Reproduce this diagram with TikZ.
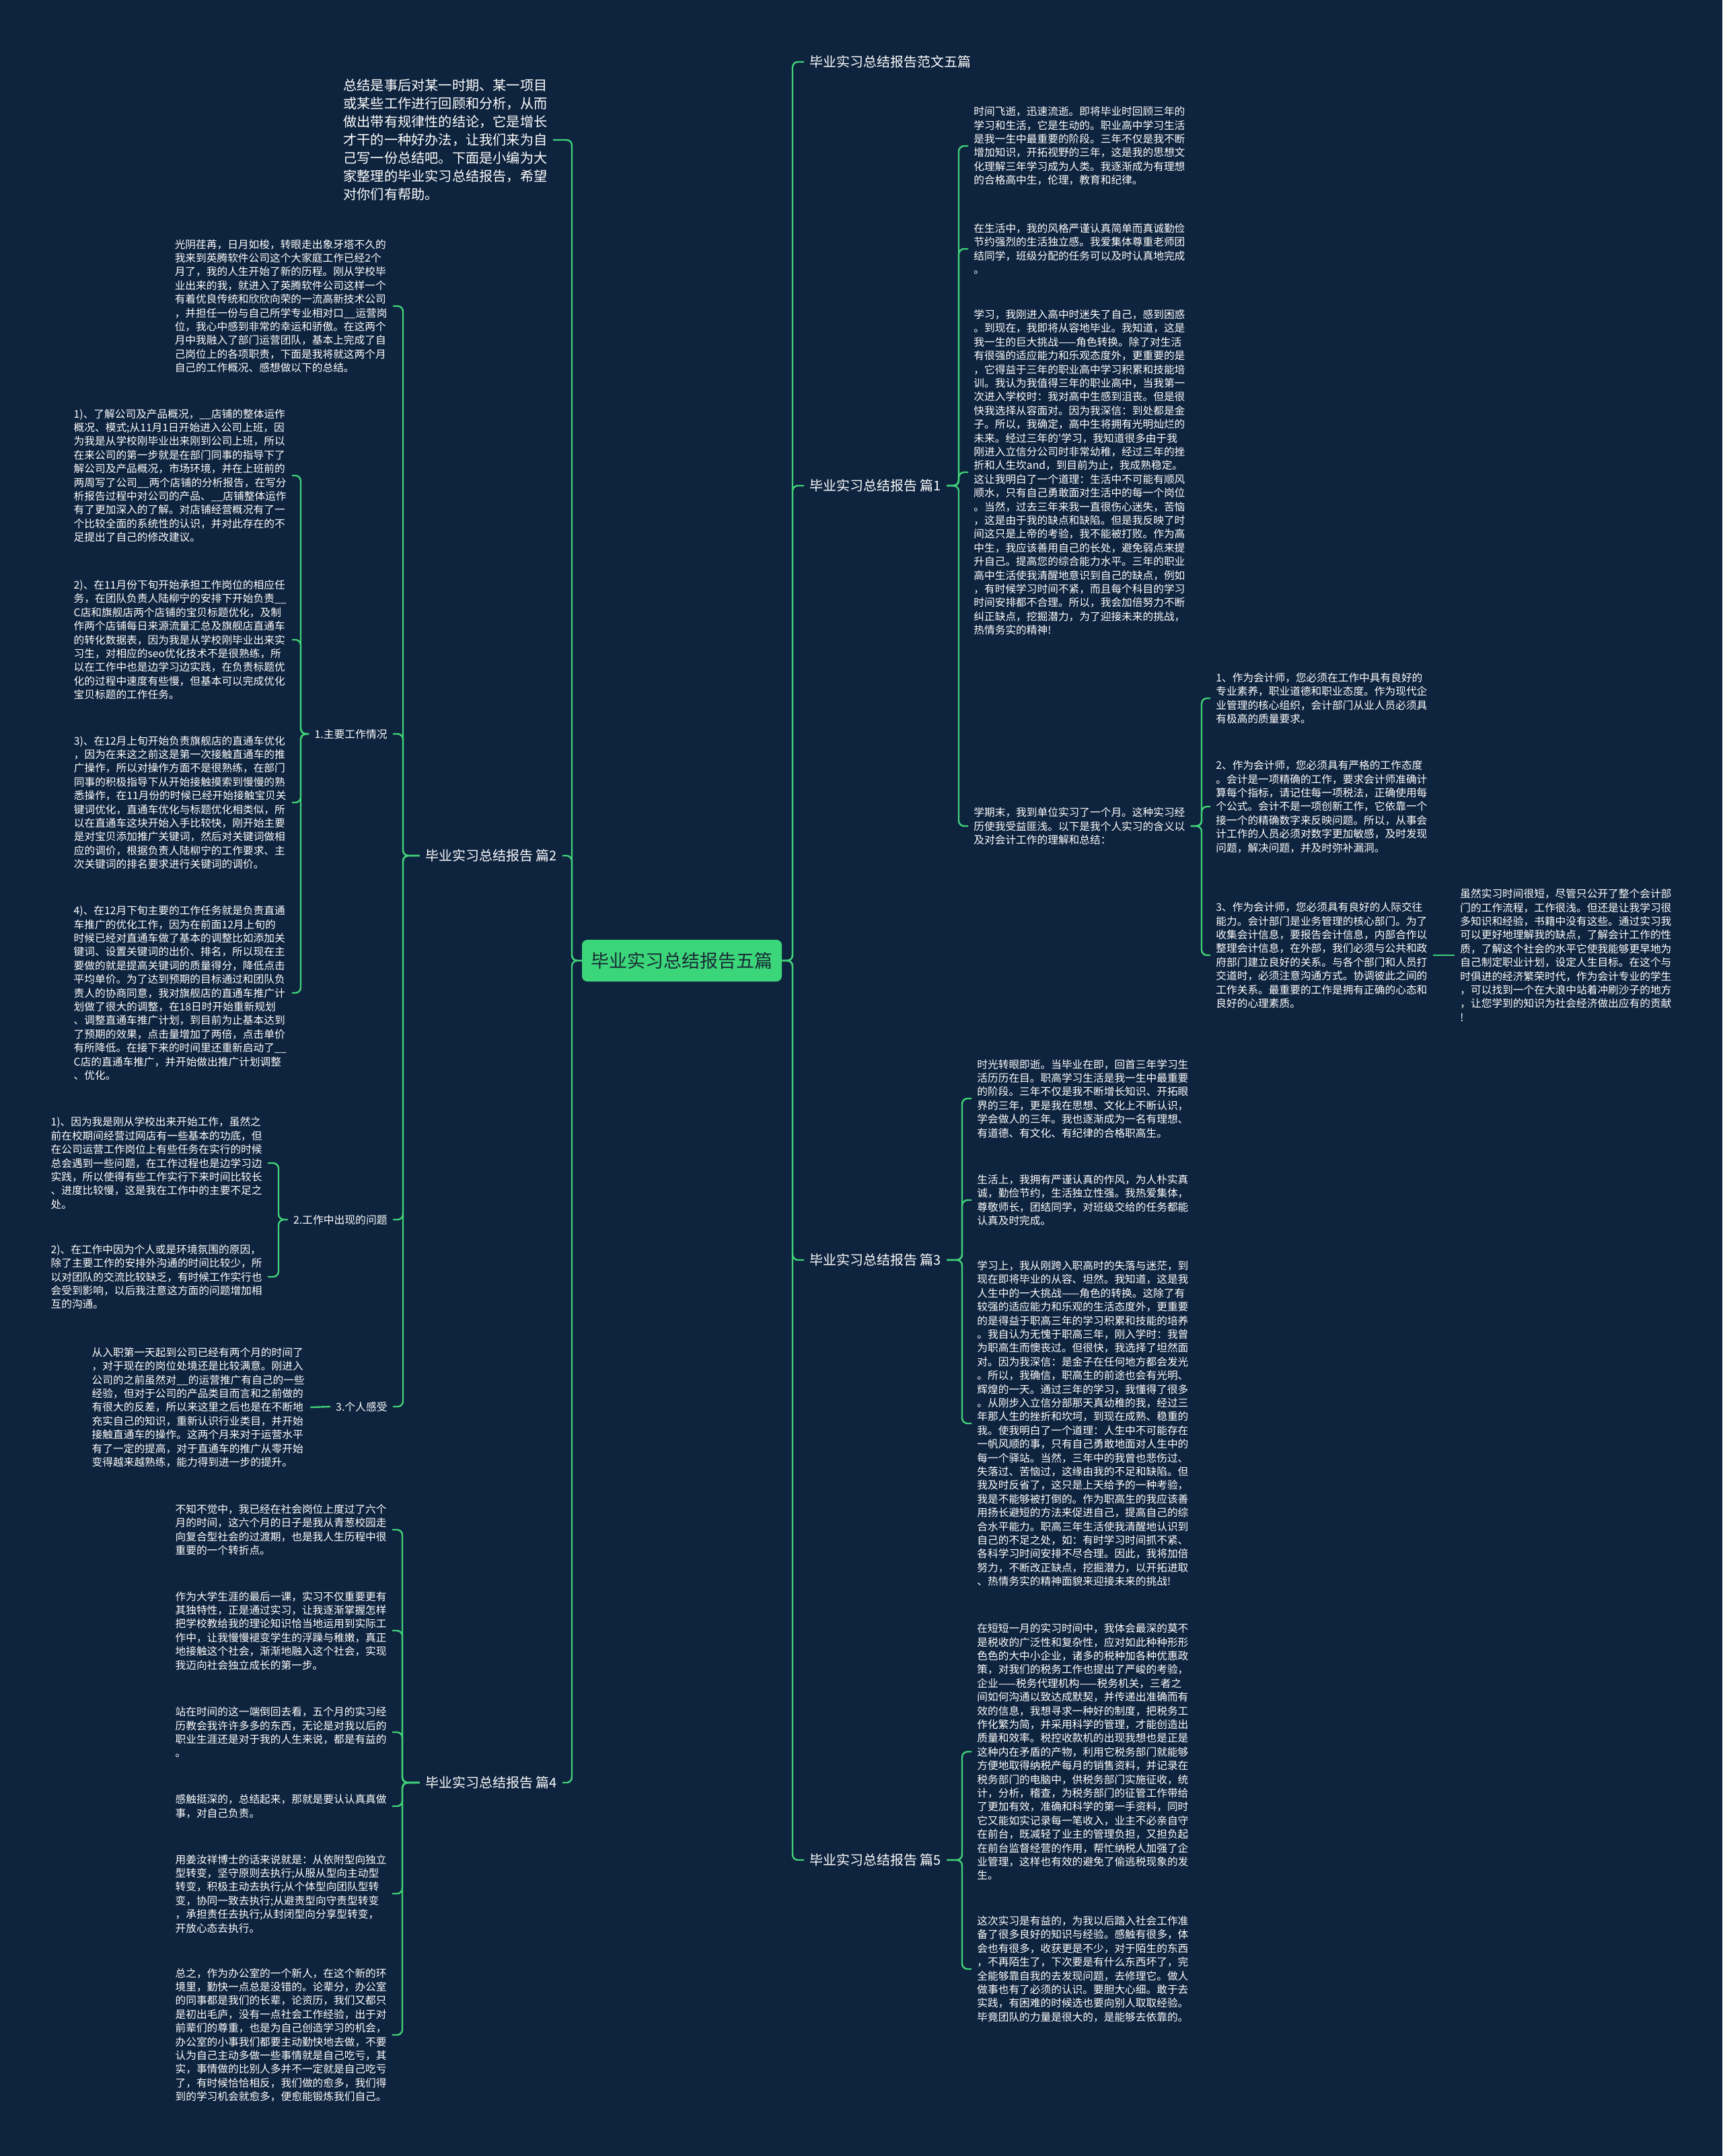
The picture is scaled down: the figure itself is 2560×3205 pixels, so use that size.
\documentclass[tikz,border=0pt]{standalone}
\usepackage{fontspec}
\newfontfamily\cjk{Noto Sans CJK SC}
\definecolor{bgc}{RGB}{14,35,62}
\definecolor{lnk}{RGB}{64,210,120}
\definecolor{rootfill}{RGB}{60,214,122}
\definecolor{roottext}{RGB}{24,42,52}
\newcommand\linkR[3]{\draw[conn] (#1.east) -- (#1.east -| #3) |- (#2.west);}
\newcommand\linkL[3]{\draw[conn] (#1.west) -- (#1.west -| #3) |- (#2.east);}
\tikzset{
  every node/.style={inner sep=0pt},
  para/.style={font=\cjk\fontsize{7.85}{10.2}\selectfont, text=white, align=left, inner xsep=4pt, inner ysep=0pt},
  lbl/.style={font=\cjk\fontsize{10}{12}\selectfont, text=white, align=left, inner xsep=4pt},
  sublbl/.style={font=\cjk\fontsize{7.9}{10}\selectfont, text=white, inner xsep=4pt},
  introtxt/.style={font=\cjk\fontsize{10.1}{13.5}\selectfont, text=white, align=left, inner xsep=4pt},
  rootbox/.style={font=\cjk\fontsize{13.5}{16}\selectfont, text=roottext, fill=rootfill, rounded corners=4pt, minimum width=148.5pt, minimum height=31pt},
  conn/.style={draw=lnk, line width=1.2pt, rounded corners=4pt},
}
\begin{document}
\begin{tikzpicture}[x=0.5pt,y=-0.5pt]
\fill[bgc] (0,0) rectangle (2560,3205);
\useasboundingbox (0,0) rectangle (2560,3205);
% spines
\coordinate (spR) at (1178,0);
\coordinate (spL) at (850,0);
\coordinate (spP1) at (1425,0);
\coordinate (spP3) at (1430,0);
\coordinate (spP5) at (1430,0);
\coordinate (spA) at (1786,0);
\coordinate (spB) at (599,0);
\coordinate (spM1) at (447,0);
\coordinate (spM2) at (414,0);
\coordinate (spB4) at (598,0);

% root
\node[rootbox] (C) at (1013.5,1428) {毕业实习总结报告五篇};

% right main labels
\node[lbl, anchor=west] (R0) at (1195,92) {毕业实习总结报告范文五篇};
\node[lbl, anchor=west] (R1) at (1195,722) {毕业实习总结报告 篇1};
\node[lbl, anchor=west] (R3) at (1195,1873) {毕业实习总结报告 篇3};
\node[lbl, anchor=west] (R5) at (1195,2765) {毕业实习总结报告 篇5};

% left main
\node[introtxt, anchor=west] (intro) at (502,208) {总结是事后对某一时期、某一项目\\或某些工作进行回顾和分析，从而\\做出带有规律性的结论，它是增长\\才干的一种好办法，让我们来为自\\己写一份总结吧。下面是小编为大\\家整理的毕业实习总结报告，希望\\对你们有帮助。};
\node[lbl, anchor=east] (L2) at (836,1272) {毕业实习总结报告 篇2};
\node[lbl, anchor=east] (L4) at (836,2650) {毕业实习总结报告 篇4};

% 篇1
\node[para, anchor=west] (p1) at (1439,217) {时间飞逝，迅速流逝。即将毕业时回顾三年的\\学习和生活，它是生动的。职业高中学习生活\\是我一生中最重要的阶段。三年不仅是我不断\\增加知识，开拓视野的三年，这是我的思想文\\化理解三年学习成为人类。我逐渐成为有理想\\的合格高中生，伦理，教育和纪律。};
\node[para, anchor=west] (p2) at (1439,370) {在生活中，我的风格严谨认真简单而真诚勤俭\\节约强烈的生活独立感。我爱集体尊重老师团\\结同学，班级分配的任务可以及时认真地完成\\。};
\node[para, anchor=west] (p3) at (1439,702) {学习，我刚进入高中时迷失了自己，感到困惑\\。到现在，我即将从容地毕业。我知道，这是\\我一生的巨大挑战——角色转换。除了对生活\\有很强的适应能力和乐观态度外，更重要的是\\，它得益于三年的职业高中学习积累和技能培\\训。我认为我值得三年的职业高中，当我第一\\次进入学校时：我对高中生感到沮丧。但是很\\快我选择从容面对。因为我深信：到处都是金\\子。所以，我确定，高中生将拥有光明灿烂的\\未来。经过三年的'学习，我知道很多由于我\\刚进入立信分公司时非常幼稚，经过三年的挫\\折和人生坎and，到目前为止，我成熟稳定。\\这让我明白了一个道理：生活中不可能有顺风\\顺水，只有自己勇敢面对生活中的每一个岗位\\。当然，过去三年来我一直很伤心迷失，苦恼\\，这是由于我的缺点和缺陷。但是我反映了时\\间这只是上帝的考验，我不能被打败。作为高\\中生，我应该善用自己的长处，避免弱点来提\\升自己。提高您的综合能力水平。三年的职业\\高中生活使我清醒地意识到自己的缺点，例如\\，有时候学习时间不紧，而且每个科目的学习\\时间安排都不合理。所以，我会加倍努力不断\\纠正缺点，挖掘潜力，为了迎接未来的挑战，\\热情务实的精神!};
\node[para, anchor=west] (p4) at (1439,1228) {学期末，我到单位实习了一个月。这种实习经\\历使我受益匪浅。以下是我个人实习的含义以\\及对会计工作的理解和总结：};
\node[para, anchor=west] (a1) at (1799,1038) {1、作为会计师，您必须在工作中具有良好的\\专业素养，职业道德和职业态度。作为现代企\\业管理的核心组织，会计部门从业人员必须具\\有极高的质量要求。};
\node[para, anchor=west] (a2) at (1799,1199) {2、作为会计师，您必须具有严格的工作态度\\。会计是一项精确的工作，要求会计师准确计\\算每个指标，请记住每一项税法，正确使用每\\个公式。会计不是一项创新工作，它依靠一个\\接一个的精确数字来反映问题。所以，从事会\\计工作的人员必须对数字更加敏感，及时发现\\问题，解决问题，并及时弥补漏洞。};
\node[para, anchor=west] (a3) at (1799,1420) {3、作为会计师，您必须具有良好的人际交往\\能力。会计部门是业务管理的核心部门。为了\\收集会计信息，要报告会计信息，内部合作以\\整理会计信息，在外部，我们必须与公共和政\\府部门建立良好的关系。与各个部门和人员打\\交道时，必须注意沟通方式。协调彼此之间的\\工作关系。最重要的工作是拥有正确的心态和\\良好的心理素质。};
\node[para, anchor=west] (f1) at (2162,1420) {虽然实习时间很短，尽管只公开了整个会计部\\门的工作流程，工作很浅。但还是让我学习很\\多知识和经验，书籍中没有这些。通过实习我\\可以更好地理解我的缺点，了解会计工作的性\\质，了解这个社会的水平它使我能够更早地为\\自己制定职业计划，设定人生目标。在这个与\\时俱进的经济繁荣时代，作为会计专业的学生\\，可以找到一个在大浪中站着冲刷沙子的地方\\，让您学到的知识为社会经济做出应有的贡献\\!};

% 篇3
\node[para, anchor=west] (q1) at (1444,1633) {时光转眼即逝。当毕业在即，回首三年学习生\\活历历在目。职高学习生活是我一生中最重要\\的阶段。三年不仅是我不断增长知识、开拓眼\\界的三年，更是我在思想、文化上不断认识，\\学会做人的三年。我也逐渐成为一名有理想、\\有道德、有文化、有纪律的合格职高生。};
\node[para, anchor=west] (q2) at (1444,1784) {生活上，我拥有严谨认真的作风，为人朴实真\\诚，勤俭节约，生活独立性强。我热爱集体，\\尊敬师长，团结同学，对班级交给的任务都能\\认真及时完成。};
\node[para, anchor=west] (q3) at (1444,2116) {学习上，我从刚跨入职高时的失落与迷茫，到\\现在即将毕业的从容、坦然。我知道，这是我\\人生中的一大挑战——角色的转换。这除了有\\较强的适应能力和乐观的生活态度外，更重要\\的是得益于职高三年的学习积累和技能的培养\\。我自认为无愧于职高三年，刚入学时：我曾\\为职高生而懊丧过。但很快，我选择了坦然面\\对。因为我深信：是金子在任何地方都会发光\\。所以，我确信，职高生的前途也会有光明、\\辉煌的一天。通过三年的学习，我懂得了很多\\。从刚步入立信分部那天真幼稚的我，经过三\\年那人生的挫折和坎坷，到现在成熟、稳重的\\我。使我明白了一个道理：人生中不可能存在\\一帆风顺的事，只有自己勇敢地面对人生中的\\每一个驿站。当然，三年中的我曾也悲伤过、\\失落过、苦恼过，这缘由我的不足和缺陷。但\\我及时反省了，这只是上天给予的一种考验，\\我是不能够被打倒的。作为职高生的我应该善\\用扬长避短的方法来促进自己，提高自己的综\\合水平能力。职高三年生活使我清醒地认识到\\自己的不足之处，如：有时学习时间抓不紧、\\各科学习时间安排不尽合理。因此，我将加倍\\努力，不断改正缺点，挖掘潜力，以开拓进取\\、热情务实的精神面貌来迎接未来的挑战!};

% 篇5
\node[para, anchor=west] (r1) at (1444,2604) {在短短一月的实习时间中，我体会最深的莫不\\是税收的广泛性和复杂性，应对如此种种形形\\色色的大中小企业，诸多的税种加各种优惠政\\策，对我们的税务工作也提出了严峻的考验，\\企业——税务代理机构——税务机关，三者之\\间如何沟通以致达成默契，并传递出准确而有\\效的信息，我想寻求一种好的制度，把税务工\\作化繁为简，并采用科学的管理，才能创造出\\质量和效率。税控收款机的出现我想也是正是\\这种内在矛盾的产物，利用它税务部门就能够\\方便地取得纳税产每月的销售资料，并记录在\\税务部门的电脑中，供税务部门实施征收，统\\计，分析，稽查，为税务部门的征管工作带给\\了更加有效，准确和科学的第一手资料，同时\\它又能如实记录每一笔收入，业主不必亲自守\\在前台，既减轻了业主的管理负担，又担负起\\在前台监督经营的作用，帮忙纳税人加强了企\\业管理，这样也有效的避免了偷逃税现象的发\\生。};
\node[para, anchor=west] (r2) at (1444,2927) {这次实习是有益的，为我以后踏入社会工作准\\备了很多良好的知识与经验。感触有很多，体\\会也有很多，收获更是不少，对于陌生的东西\\，不再陌生了，下次要是有什么东西坏了，完\\全能够靠自我的去发现问题，去修理它。做人\\做事也有了必须的认识。要胆大心细。敢于去\\实践，有困难的时候选也要向别人取取经验。\\毕竟团队的力量是很大的，是能够去依靠的。};

% 篇2
\node[para, anchor=east] (g0) at (584,455) {光阴荏苒，日月如梭，转眼走出象牙塔不久的\\我来到英腾软件公司这个大家庭工作已经2个\\月了，我的人生开始了新的历程。刚从学校毕\\业出来的我，就进入了英腾软件公司这样一个\\有着优良传统和欣欣向荣的一流高新技术公司\\，并担任一份与自己所学专业相对口\_\_运营岗\\位，我心中感到非常的幸运和骄傲。在这两个\\月中我融入了部门运营团队，基本上完成了自\\己岗位上的各项职责，下面是我将就这两个月\\自己的工作概况、感想做以下的总结。};
\node[sublbl, anchor=east] (m1) at (584,1091) {1.主要工作情况};
\node[sublbl, anchor=east] (m2) at (584,1813) {2.工作中出现的问题};
\node[sublbl, anchor=east] (m3) at (584,2091) {3.个人感受};
\node[para, anchor=east] (w1) at (434,707) {1)、了解公司及产品概况，\_\_店铺的整体运作\\概况、模式;从11月1日开始进入公司上班，因\\为我是从学校刚毕业出来刚到公司上班，所以\\在来公司的第一步就是在部门同事的指导下了\\解公司及产品概况，市场环境，并在上班前的\\两周写了公司\_\_两个店铺的分析报告，在写分\\析报告过程中对公司的产品、\_\_店铺整体运作\\有了更加深入的了解。对店铺经营概况有了一\\个比较全面的系统性的认识，并对此存在的不\\足提出了自己的修改建议。};
\node[para, anchor=east] (w2) at (434,951) {2)、在11月份下旬开始承担工作岗位的相应任\\务，在团队负责人陆柳宁的安排下开始负责\_\_\\C店和旗舰店两个店铺的宝贝标题优化，及制\\作两个店铺每日来源流量汇总及旗舰店直通车\\的转化数据表，因为我是从学校刚毕业出来实\\习生，对相应的seo优化技术不是很熟练，所\\以在工作中也是边学习边实践，在负责标题优\\化的过程中速度有些慢，但基本可以完成优化\\宝贝标题的工作任务。};
\node[para, anchor=east] (w3) at (434,1193) {3)、在12月上旬开始负责旗舰店的直通车优化\\，因为在来这之前这是第一次接触直通车的推\\广操作，所以对操作方面不是很熟练，在部门\\同事的积极指导下从开始接触摸索到慢慢的熟\\悉操作，在11月份的时候已经开始接触宝贝关\\键词优化，直通车优化与标题优化相类似，所\\以在直通车这块开始入手比较快，刚开始主要\\是对宝贝添加推广关键词，然后对关键词做相\\应的调价，根据负责人陆柳宁的工作要求、主\\次关键词的排名要求进行关键词的调价。};
\node[para, anchor=east] (w4) at (434,1476) {4)、在12月下旬主要的工作任务就是负责直通\\车推广的优化工作，因为在前面12月上旬的\\时候已经对直通车做了基本的调整比如添加关\\键词、设置关键词的出价、排名，所以现在主\\要做的就是提高关键词的质量得分，降低点击\\平均单价。为了达到预期的目标通过和团队负\\责人的协商同意，我对旗舰店的直通车推广计\\划做了很大的调整，在18日时开始重新规划\\、调整直通车推广计划，到目前为止基本达到\\了预期的效果，点击量增加了两倍，点击单价\\有所降低。在接下来的时间里还重新启动了\_\_\\C店的直通车推广，并开始做出推广计划调整\\、优化。};
\node[para, anchor=east] (c1) at (398,1729) {1)、因为我是刚从学校出来开始工作，虽然之\\前在校期间经营过网店有一些基本的功底，但\\在公司运营工作岗位上有些任务在实行的时候\\总会遇到一些问题，在工作过程也是边学习边\\实践，所以使得有些工作实行下来时间比较长\\、进度比较慢，这是我在工作中的主要不足之\\处。};
\node[para, anchor=east] (c2) at (398,1898) {2)、在工作中因为个人或是环境氛围的原因，\\除了主要工作的安排外沟通的时间比较少，所\\以对团队的交流比较缺乏，有时候工作实行也\\会受到影响，以后我注意这方面的问题增加相\\互的沟通。};
\node[para, anchor=east] (k1) at (461,2092) {从入职第一天起到公司已经有两个月的时间了\\，对于现在的岗位处境还是比较满意。刚进入\\公司的之前虽然对\_\_的运营推广有自己的一些\\经验，但对于公司的产品类目而言和之前做的\\有很大的反差，所以来这里之后也是在不断地\\充实自己的知识，重新认识行业类目，并开始\\接触直通车的操作。这两个月来对于运营水平\\有了一定的提高，对于直通车的推广从零开始\\变得越来越熟练，能力得到进一步的提升。};

% 篇4
\node[para, anchor=east] (s1) at (583,2274) {不知不觉中，我已经在社会岗位上度过了六个\\月的时间，这六个月的日子是我从青葱校园走\\向复合型社会的过渡期，也是我人生历程中很\\重要的一个转折点。};
\node[para, anchor=east] (s2) at (583,2424) {作为大学生涯的最后一课，实习不仅重要更有\\其独特性，正是通过实习，让我逐渐掌握怎样\\把学校教给我的理论知识恰当地运用到实际工\\作中，让我慢慢褪变学生的浮躁与稚嫩，真正\\地接触这个社会，渐渐地融入这个社会，实现\\我迈向社会独立成长的第一步。};
\node[para, anchor=east] (s3) at (583,2575) {站在时间的这一端倒回去看，五个月的实习经\\历教会我许许多多的东西，无论是对我以后的\\职业生涯还是对于我的人生来说，都是有益的\\。};
\node[para, anchor=east] (s4) at (583,2685) {感触挺深的，总结起来，那就是要认认真真做\\事，对自己负责。};
\node[para, anchor=east] (s5) at (583,2815) {用姜汝祥博士的话来说就是：从依附型向独立\\型转变，坚守原则去执行;从服从型向主动型\\转变，积极主动去执行;从个体型向团队型转\\变，协同一致去执行;从避责型向守责型转变\\，承担责任去执行;从封闭型向分享型转变，\\开放心态去执行。};
\node[para, anchor=east] (s6) at (583,3025) {总之，作为办公室的一个新人，在这个新的环\\境里，勤快一点总是没错的。论辈分，办公室\\的同事都是我们的长辈，论资历，我们又都只\\是初出毛庐，没有一点社会工作经验，出于对\\前辈们的尊重，也是为自己创造学习的机会，\\办公室的小事我们都要主动勤快地去做，不要\\认为自己主动多做一些事情就是自己吃亏，其\\实，事情做的比别人多并不一定就是自己吃亏\\了，有时候恰恰相反，我们做的愈多，我们得\\到的学习机会就愈多，便愈能锻炼我们自己。};

% connectors right
\linkR{C}{R0}{spR}
\linkR{C}{R1}{spR}
\linkR{C}{R3}{spR}
\linkR{C}{R5}{spR}
\linkR{R1}{p1}{spP1}
\linkR{R1}{p2}{spP1}
\linkR{R1}{p3}{spP1}
\linkR{R1}{p4}{spP1}
\linkR{p4}{a1}{spA}
\linkR{p4}{a2}{spA}
\linkR{p4}{a3}{spA}
\draw[conn] (a3.east) -- (f1.west);
\linkR{R3}{q1}{spP3}
\linkR{R3}{q2}{spP3}
\linkR{R3}{q3}{spP3}
\linkR{R5}{r1}{spP5}
\linkR{R5}{r2}{spP5}
% connectors left
\linkL{C}{intro}{spL}
\linkL{C}{L2}{spL}
\linkL{C}{L4}{spL}
\linkL{L2}{g0}{spB}
\linkL{L2}{m1}{spB}
\linkL{L2}{m2}{spB}
\linkL{L2}{m3}{spB}
\linkL{m1}{w1}{spM1}
\linkL{m1}{w2}{spM1}
\linkL{m1}{w3}{spM1}
\linkL{m1}{w4}{spM1}
\linkL{m2}{c1}{spM2}
\linkL{m2}{c2}{spM2}
\draw[conn] (m3.west) -- (k1.east);
\linkL{L4}{s1}{spB4}
\linkL{L4}{s2}{spB4}
\linkL{L4}{s3}{spB4}
\linkL{L4}{s4}{spB4}
\linkL{L4}{s5}{spB4}
\linkL{L4}{s6}{spB4}
\end{tikzpicture}
\end{document}
